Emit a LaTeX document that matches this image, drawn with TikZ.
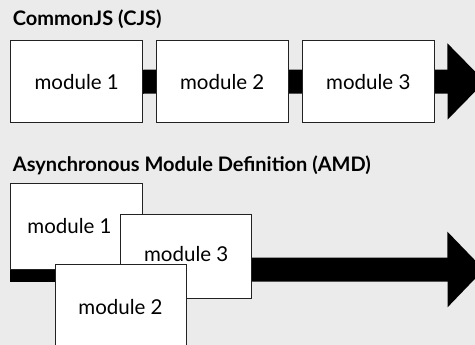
\documentclass[tikz,border=0pt]{standalone}
\usepackage{fontspec}
\setmainfont{Lato}
\usetikzlibrary{arrows.meta}
\definecolor{bg}{HTML}{EBEBEB}
\definecolor{edge}{HTML}{222222}
\pgfdeclarelayer{canvas}
\pgfdeclarelayer{flowlayer}
\pgfsetlayers{canvas,flowlayer,main}
\tikzset{
  modbox/.style={draw=edge, line width=1pt, fill=white, minimum width=132pt,
    minimum height=82pt, inner sep=0pt, font=\fontsize{20.5}{24}\selectfont},
  heading/.style={anchor=base west, inner sep=0pt, font=\fontsize{20}{24}\selectfont\bfseries},
  flow/.style={line width=24pt, black, -{Triangle[length=37.5pt,width=74pt]}}
}
\begin{document}
\begin{tikzpicture}[x=1pt, y=-1pt]
  \useasboundingbox (0,0) rectangle (475,345);
  \clip (0,0) rectangle (475,345);
  \begin{pgfonlayer}{canvas}
    \fill[bg] (0,0) rectangle (475,345);
  \end{pgfonlayer}

  % CommonJS: modules loaded one after another
  \node[heading] (cjstitle) at (12.7,26) {CommonJS (CJS)};
  \node[modbox] (c1) at (76.7,81.8) {module 1};
  \node[modbox] (c2) at (222.2,81.8) {module 2};
  \node[modbox] (c3) at (368.3,81.8) {module 3};
  \coordinate (cjsend) at (485,81.5);
  \begin{pgfonlayer}{flowlayer}
    \draw[flow] (c1.center) -- (cjsend);
  \end{pgfonlayer}

  % AMD: modules loaded in parallel
  \node[heading] (amdtitle) at (12.7,171.7) {Asynchronous Module Definition (AMD)};
  \node[modbox, minimum height=86pt] (a1) at (76.7,226.3) {\hspace*{-14.4pt}module 1};
  \node[modbox, minimum width=131pt, minimum height=84pt] (a3) at (186.2,256.2) {\raisebox{3.5pt}{module 3}};
  \node[modbox, minimum width=131pt, minimum height=86pt] (a2) at (120.5,307.3) {module 2};
  \coordinate (amdend) at (484,269.5);
  \begin{pgfonlayer}{flowlayer}
    \draw[flow, -{Triangle[length=36.5pt,width=73.4pt]}] ([yshift=-0.2pt]a1.south west) -- (amdend);
  \end{pgfonlayer}
\end{tikzpicture}
\end{document}
